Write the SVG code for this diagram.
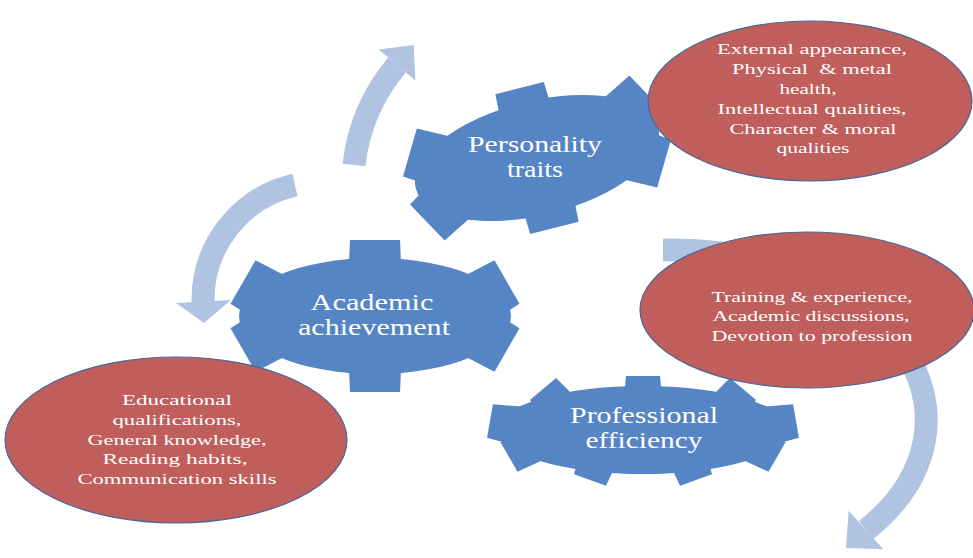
<svg xmlns="http://www.w3.org/2000/svg" width="973" height="558" viewBox="0 0 973 558">
<defs>
<style>
.gear{fill:#5585c4}
.bubble{fill:#bf5e5b;stroke:#44689c;stroke-width:1.2}
.arc{fill:none;stroke:#b0c4e2;stroke-width:23}
.head{fill:#b0c4e2}
text{font-family:"Liberation Serif","Times New Roman",serif;fill:#ffffff;text-anchor:middle}
.gt{font-size:24px}
.et{font-size:15.5px}
</style>
<polygon id="t6" points="-25,0 25,0 27,45 -27,45"/>
<polygon id="t9" points="-17,0 17,0 20,32 -20,32"/>
</defs>
<rect width="973" height="558" fill="#ffffff"/>
<g id="connectors">
<path class="arc" d="M354,165 A188,188 0 0 1 397,65"/>
<polygon class="head" points="378.6,49.6 413.7,45.1 415.4,80.4"/>
<path class="arc" d="M295,185 A118,118 0 0 0 203,302"/>
<polygon class="head" points="176,303 231,300 204,323"/>
<path class="arc" d="M663,250 L672,250 A253.5,170 0 0 1 866,530"/>
<polygon class="head" points="848.6,510.8 846,548.1 883.4,549.2"/>
</g>
<g id="gear-personality">
<g class="gear" transform="translate(537,158) rotate(-14)">
<ellipse cx="0" cy="0" rx="125" ry="57"/>
<use href="#t6" transform="translate(0,-72)"/>
<use href="#t6" transform="translate(0,72) rotate(180)"/>
<use href="#t6" transform="translate(122,-36) rotate(60)"/>
<use href="#t6" transform="translate(122,36) rotate(120)"/>
<use href="#t6" transform="translate(-122,-36) rotate(-60)"/>
<use href="#t6" transform="translate(-122,36) rotate(-120)"/>
</g>
<text class="gt" x="535" y="152" textLength="134" lengthAdjust="spacingAndGlyphs">Personality</text>
<text class="gt" x="535" y="177" textLength="56" lengthAdjust="spacingAndGlyphs">traits</text>
</g>
<g id="gear-academic">
<g class="gear">
<ellipse cx="375" cy="316" rx="136" ry="58"/>
<use href="#t6" transform="translate(375,240)"/>
<use href="#t6" transform="translate(375,392) rotate(180)"/>
<use href="#t6" transform="translate(507,282) rotate(60)"/>
<use href="#t6" transform="translate(507,350) rotate(120)"/>
<use href="#t6" transform="translate(243,282) rotate(-60)"/>
<use href="#t6" transform="translate(243,350) rotate(-120)"/>
</g>
<text class="gt" x="372" y="310" textLength="123" lengthAdjust="spacingAndGlyphs">Academic</text>
<text class="gt" x="374" y="335" textLength="152" lengthAdjust="spacingAndGlyphs">achievement</text>
</g>
<g id="gear-professional">
<g class="gear">
<ellipse cx="643" cy="430" rx="146" ry="44"/>
<use href="#t9" transform="translate(643,376)"/>
<use href="#t9" transform="translate(743,389) rotate(40)"/>
<use href="#t9" transform="translate(796,421) rotate(80)"/>
<use href="#t9" transform="translate(777,457) rotate(120)"/>
<use href="#t9" transform="translate(696,480) rotate(160)"/>
<use href="#t9" transform="translate(590,480) rotate(200)"/>
<use href="#t9" transform="translate(509,457) rotate(240)"/>
<use href="#t9" transform="translate(490,421) rotate(280)"/>
<use href="#t9" transform="translate(543,389) rotate(320)"/>
</g>
<text class="gt" x="644" y="423" textLength="148" lengthAdjust="spacingAndGlyphs">Professional</text>
<text class="gt" x="644" y="448" textLength="117" lengthAdjust="spacingAndGlyphs">efficiency</text>
</g>
<g id="bubble-personality">
<ellipse class="bubble" cx="810" cy="101" rx="162" ry="80"/>
<text class="et" x="812" y="54" textLength="190" lengthAdjust="spacingAndGlyphs">External appearance,</text>
<text class="et" x="812" y="74" textLength="160" lengthAdjust="spacingAndGlyphs" xml:space="preserve">Physical  &amp; metal</text>
<text class="et" x="808" y="94" textLength="57" lengthAdjust="spacingAndGlyphs">health,</text>
<text class="et" x="812" y="114" textLength="189" lengthAdjust="spacingAndGlyphs">Intellectual qualities,</text>
<text class="et" x="813" y="134" textLength="167" lengthAdjust="spacingAndGlyphs">Character &amp; moral</text>
<text class="et" x="813" y="153" textLength="73" lengthAdjust="spacingAndGlyphs">qualities</text>
</g>
<g id="bubble-professional">
<ellipse class="bubble" cx="807" cy="310" rx="167" ry="78"/>
<text class="et" x="812" y="302" textLength="201" lengthAdjust="spacingAndGlyphs">Training &amp; experience,</text>
<text class="et" x="811" y="321" textLength="197" lengthAdjust="spacingAndGlyphs">Academic discussions,</text>
<text class="et" x="812" y="341" textLength="201" lengthAdjust="spacingAndGlyphs">Devotion to profession</text>
</g>
<g id="bubble-academic">
<ellipse class="bubble" cx="176" cy="440" rx="171" ry="83"/>
<text class="et" x="177" y="405" textLength="110" lengthAdjust="spacingAndGlyphs">Educational</text>
<text class="et" x="177" y="425" textLength="129" lengthAdjust="spacingAndGlyphs">qualifications,</text>
<text class="et" x="177" y="445" textLength="179" lengthAdjust="spacingAndGlyphs">General knowledge,</text>
<text class="et" x="175" y="464" textLength="145" lengthAdjust="spacingAndGlyphs">Reading habits,</text>
<text class="et" x="177" y="484" textLength="199" lengthAdjust="spacingAndGlyphs">Communication skills</text>
</g>
</svg>
